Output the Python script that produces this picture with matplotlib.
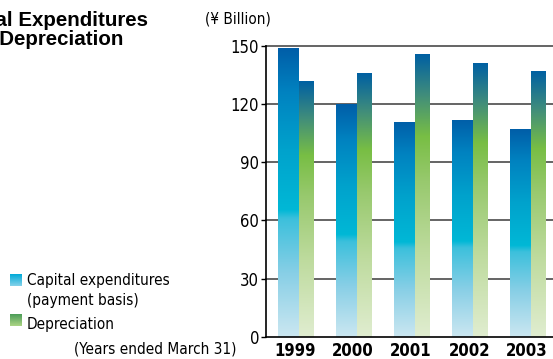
import numpy as np
import matplotlib.pyplot as plt
from matplotlib.colors import LinearSegmentedColormap

years = ['1999', '2000', '2001', '2002', '2003']
capex = [149, 120, 111, 112, 107]
depreciation = [132, 136, 146, 141, 137]
yticks = [0, 30, 60, 90, 120, 150]

plt.rcParams['font.family'] = ['DejaVu Sans']
plt.rcParams['font.stretch'] = 'condensed'

capex_cmap = LinearSegmentedColormap.from_list('capex', [
    (0.0, '#cbe7f1'), (0.22, '#88cfe6'), (0.41, '#3cc0dc'),
    (0.44, '#00b8d6'), (0.65, '#00a2cc'), (0.85, '#0082c0'), (1.0, '#005ea8')])
dep_cmap = LinearSegmentedColormap.from_list('dep', [
    (0.0, '#e0edd0'), (0.3, '#bedb9e'), (0.55, '#98c96e'),
    (0.71, '#78be44'), (0.86, '#3f8c7c'), (1.0, '#0060a2')])

fig = plt.figure(figsize=(5.53, 3.59), dpi=100)
W, H = 553, 359
ax = fig.add_axes([266 / W, 1 - 336.7 / H, 1 - 266 / W, (336.7 - 46) / H])

grad = np.linspace(0, 1, 256).reshape(-1, 1)
cap_w, dep_w = 0.362, 0.25


def gradient_bar(x0, width, height, cmap):
    bar = ax.bar(x0, height, width=width, align='edge', color='none',
                 linewidth=0, zorder=2)[0]
    img = ax.imshow(grad, cmap=cmap, origin='lower', aspect='auto',
                    extent=[x0, x0 + width, 0, height], zorder=2,
                    interpolation='bilinear')
    img.set_clip_path(bar)


for i in range(len(years)):
    gradient_bar(i, cap_w, capex[i], capex_cmap)
    gradient_bar(i + cap_w, dep_w, depreciation[i], dep_cmap)

for v in yticks[1:]:
    ax.axhline(v, color='#4a4a4a', linewidth=1.2, zorder=1, clip_on=False)

ax.set_xlim(-0.212, 4.736)
ax.set_ylim(0, 150)
ax.set_yticks(yticks)
ax.set_yticklabels([str(v) for v in yticks], fontsize=12)
ax.set_xticks([i + 0.29 for i in range(len(years))])
ax.set_xticklabels(years, fontsize=12, fontweight='bold')
ax.tick_params(axis='x', length=0, pad=3.5)
ax.tick_params(axis='y', length=3.5, width=1, pad=1.5, direction='out')
for side in ['top', 'right']:
    ax.spines[side].set_visible(False)
for side in ['left', 'bottom']:
    ax.spines[side].set_linewidth(1.2)
    ax.spines[side].set_color('black')

# title, partly running off the left edge
fig.text(148 / W, 1 - 26 / H, 'Capital Expenditures', ha='right',
         va='baseline', fontsize=14.8, fontweight='bold',
         family=['Liberation Sans', 'DejaVu Sans'], fontstretch='normal')
fig.text(123 / W, 1 - 45 / H, 'and Depreciation', ha='right',
         va='baseline', fontsize=14.8, fontweight='bold',
         family=['Liberation Sans', 'DejaVu Sans'], fontstretch='normal')

fig.text(238 / W, 1 - 19 / H, '(¥ Billion)', ha='center', va='center',
         fontsize=11)

# legend swatches
sw_cap = fig.add_axes([10 / W, 1 - 286 / H, 12 / W, 12 / H])
sw_cap.imshow(grad, cmap=LinearSegmentedColormap.from_list(
    'swc', ['#86d2ea', '#00aad8']), origin='lower', aspect='auto')
sw_cap.axis('off')
sw_dep = fig.add_axes([10 / W, 1 - 326 / H, 12 / W, 12 / H])
sw_dep.imshow(grad, cmap=LinearSegmentedColormap.from_list(
    'swd', ['#acd585', '#4c9c58']), origin='lower', aspect='auto')
sw_dep.axis('off')

fig.text(27 / W, 1 - 281 / H, 'Capital expenditures', ha='left',
         va='center', fontsize=11)
fig.text(27 / W, 1 - 300 / H, '(payment basis)', ha='left',
         va='center', fontsize=11)
fig.text(27 / W, 1 - 325 / H, 'Depreciation', ha='left',
         va='center', fontsize=11)
fig.text(237 / W, 1 - 349 / H, '(Years ended March 31)', ha='right',
         va='center', fontsize=11)

fig.savefig('out.png', dpi=100)
